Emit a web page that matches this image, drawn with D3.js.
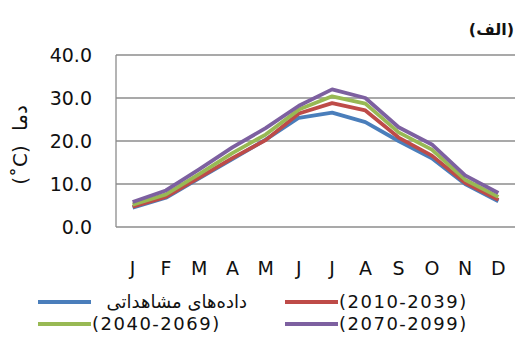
<!DOCTYPE html>
<html>
<head>
<meta charset="utf-8">
<script src="https://cdn.jsdelivr.net/npm/d3@7"></script>
<style>
  body { margin: 0; background: #fff; }
  text { font-family: "DejaVu Sans", sans-serif; fill: #111; }
</style>
</head>
<body>
<div id="chart"></div>
<script>
var months = ["J", "F", "M", "A", "M", "J", "J", "A", "S", "O", "N", "D"];
var yTicks = [0, 10, 20, 30, 40];

var observed = [4.5, 6.8, 11.3, 15.8, 20.3, 25.4, 26.6, 24.4, 20.0, 16.0, 10.0, 6.0];
var p2010 = [4.7, 7.0, 11.5, 16.0, 20.2, 26.4, 28.8, 27.1, 20.8, 16.6, 10.3, 6.3];
var p2040 = [5.2, 7.6, 12.3, 17.2, 21.5, 27.3, 30.4, 28.7, 22.0, 18.0, 11.0, 7.0];
var p2070 = [5.8, 8.5, 13.4, 18.5, 23.0, 28.2, 32.0, 30.0, 23.2, 19.2, 12.0, 7.9];

var seriesNames = ["داده‌های مشاهداتی", "(2010-2039)", "(2040-2069)", "(2070-2099)"];
var seriesColors = ["#4a7ebb", "#be4b48", "#98b954", "#7d60a0"];
var seriesValues = [observed, p2010, p2040, p2070];

var width = 517, height = 347;
var margin = {left: 116, right: 2, top: 55, bottom: 120};

var svg = d3.select("#chart").append("svg")
    .attr("width", width)
    .attr("height", height);

var x = d3.scaleBand()
    .domain(d3.range(months.length))
    .range([margin.left, width - margin.right]);

var y = d3.scaleLinear()
    .domain([0, 40])
    .range([height - margin.bottom, margin.top]);

// grid lines
svg.append("g")
    .selectAll("line")
    .data(yTicks.slice(1))
    .enter().append("line")
    .attr("x1", margin.left)
    .attr("x2", width - margin.right)
    .attr("y1", function(d) { return y(d); })
    .attr("y2", function(d) { return y(d); })
    .attr("stroke", "#8c8c8c")
    .attr("stroke-width", 1.3);

// axes lines
svg.append("line")
    .attr("x1", margin.left).attr("x2", margin.left)
    .attr("y1", y(40)).attr("y2", y(0))
    .attr("stroke", "#8c8c8c").attr("stroke-width", 1.3);
svg.append("line")
    .attr("x1", margin.left).attr("x2", width - margin.right)
    .attr("y1", y(0)).attr("y2", y(0))
    .attr("stroke", "#8c8c8c").attr("stroke-width", 1.3);

// y tick labels
svg.append("g")
    .selectAll("text")
    .data(yTicks)
    .enter().append("text")
    .attr("x", 92)
    .attr("y", function(d) { return y(d); })
    .attr("dy", "0.35em")
    .attr("text-anchor", "end")
    .style("font-size", "19px")
    .text(function(d) { return d.toFixed(1); });

// x tick labels
svg.append("g")
    .selectAll("text")
    .data(months)
    .enter().append("text")
    .attr("x", function(d, i) { return x(i) + x.bandwidth() / 2; })
    .attr("y", 268)
    .attr("dy", "0.35em")
    .attr("text-anchor", "middle")
    .style("font-size", "19px")
    .text(function(d) { return d; });

// y axis title
svg.append("text")
    .attr("transform", "translate(20," + 145 + ") rotate(-90)")
    .attr("text-anchor", "middle")
    .attr("direction", "ltr")
    .attr("dy", "0.35em")
    .style("font-size", "20px")
    .style("word-spacing", "8px")
    .text("(˚C) دما");

// panel label
svg.append("text")
    .attr("x", 514)
    .attr("y", 29)
    .attr("dy", "0.35em")
    .attr("text-anchor", "end")
    .style("font-size", "16px")
    .style("font-weight", "bold")
    .text("(الف)");

// lines
var line = d3.line()
    .x(function(d, i) { return x(i) + x.bandwidth() / 2; })
    .y(function(d) { return y(d); });

svg.append("g")
    .selectAll("path")
    .data(seriesValues)
    .enter().append("path")
    .attr("d", line)
    .attr("fill", "none")
    .attr("stroke", function(d, i) { return seriesColors[i]; })
    .attr("stroke-width", 3.8)
    .attr("stroke-linejoin", "round");

// legend
var legendPos = [[38, 302], [285, 302], [38, 324], [285, 324]];

var legendItems = svg.append("g")
    .selectAll("g")
    .data(seriesNames)
    .enter().append("g")
    .attr("transform", function(d, i) { return "translate(" + legendPos[i][0] + "," + legendPos[i][1] + ")"; });

legendItems.append("line")
    .attr("x1", 0).attr("x2", 53)
    .attr("y1", 0).attr("y2", 0)
    .attr("stroke", function(d, i) { return seriesColors[i]; })
    .attr("stroke-width", 3.8);

legendItems.append("text")
    .attr("x", function(d, i) { return i == 0 ? 209 : 54; })
    .attr("y", 0)
    .attr("dy", "0.35em")
    .attr("text-anchor", function(d, i) { return i == 0 ? "end" : "start"; })
    .style("font-size", "18px")
    .style("letter-spacing", function(d, i) { return i == 0 ? "0px" : "1.5px"; })
    .text(function(d) { return d; });
</script>
</body>
</html>
